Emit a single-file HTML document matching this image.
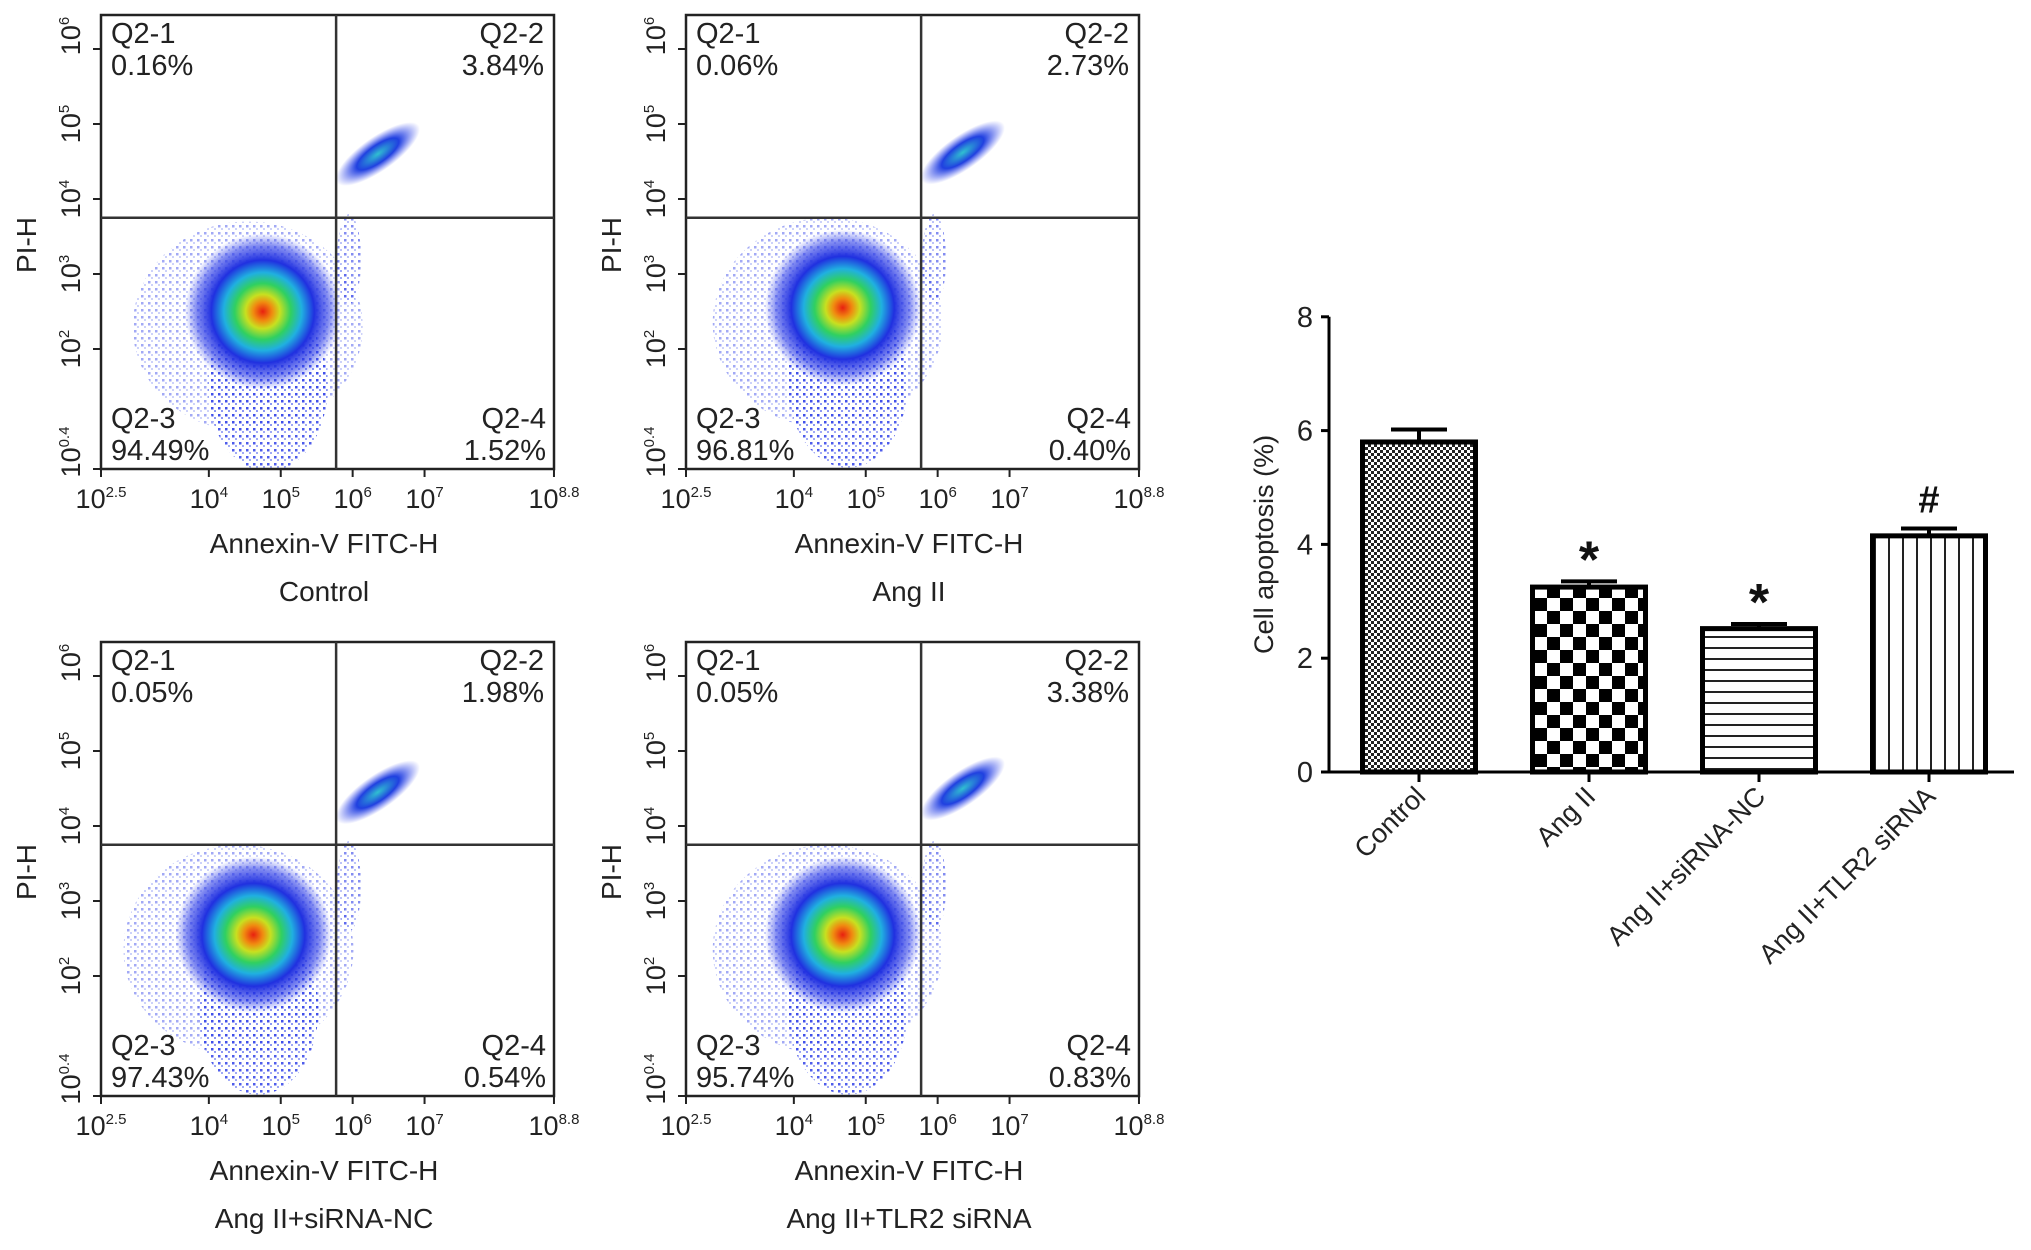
<!DOCTYPE html>
<html><head><meta charset="utf-8"><style>
html,body{margin:0;padding:0;background:#fff;}
svg{display:block;font-family:"Liberation Sans",Arial,sans-serif;}
</style></head><body>
<svg id="fig" width="2031" height="1250" viewBox="0 0 2031 1250" xmlns="http://www.w3.org/2000/svg">
<defs>
 <radialGradient id="dens" cx="50%" cy="50%" r="50%">
  <stop offset="0" stop-color="#e82010"/>
  <stop offset="0.12" stop-color="#f08a10"/>
  <stop offset="0.22" stop-color="#c8e020"/>
  <stop offset="0.36" stop-color="#30d060"/>
  <stop offset="0.5" stop-color="#20b0e0"/>
  <stop offset="0.66" stop-color="#2030e0"/>
  <stop offset="0.85" stop-color="#3040e8" stop-opacity="0.6"/>
  <stop offset="1" stop-color="#4050f0" stop-opacity="0"/>
 </radialGradient>
 <radialGradient id="dens2" cx="50%" cy="50%" r="50%">
  <stop offset="0" stop-color="#30c0d0"/>
  <stop offset="0.5" stop-color="#2040e0"/>
  <stop offset="1" stop-color="#4050f0" stop-opacity="0"/>
 </radialGradient>
 <pattern id="dots" width="7" height="7" patternUnits="userSpaceOnUse">
  <rect x="1" y="1" width="2.5" height="2.5" fill="#3040e8"/>
  <rect x="4" y="4" width="2" height="2" fill="#6070f0" opacity="0.7"/>
 </pattern>
 <pattern id="p-fine" width="6" height="6" patternUnits="userSpaceOnUse">
  <rect width="6" height="6" fill="#fff"/><rect width="3" height="3" fill="#222"/><rect x="3" y="3" width="3" height="3" fill="#222"/>
 </pattern>
 <pattern id="p-check" width="26" height="26" patternUnits="userSpaceOnUse">
  <rect width="26" height="26" fill="#fff"/><rect width="13" height="13" fill="#000"/><rect x="13" y="13" width="13" height="13" fill="#000"/>
 </pattern>
 <pattern id="p-hline" width="11" height="11" patternUnits="userSpaceOnUse">
  <rect width="11" height="11" fill="#fff"/><rect y="9" width="11" height="2" fill="#222"/>
 </pattern>
 <pattern id="p-vline" width="14" height="14" patternUnits="userSpaceOnUse">
  <rect width="14" height="14" fill="#fff"/><rect x="12" width="2" height="14" fill="#222"/>
 </pattern>
</defs>
<g id="flow"></g>
<g id="bars"></g>
</svg>
<script>
// ---- flow cytometry panels ----
const panelNames = ["Control", "Ang II", "Ang II+siRNA-NC", "Ang II+TLR2 siRNA"];
const q1Values = ["0.16%", "0.06%", "0.05%", "0.05%"];
const q2Values = ["3.84%", "2.73%", "1.98%", "3.38%"];
const q3Values = ["94.49%", "96.81%", "97.43%", "95.74%"];
const q4Values = ["1.52%", "0.40%", "0.54%", "0.83%"];
const clusterLogX = [4.75, 4.68, 4.62, 4.68];
const clusterLogY = [2.5, 2.55, 2.55, 2.55];
const apopLogX = [6.35, 6.35, 6.35, 6.35];
const apopLogY = [4.6, 4.62, 4.45, 4.5];
const xTickExp = ["2.5", "4", "5", "6", "7", "8.8"];
const xTickLog = [2.5, 4, 5, 6, 7, 8.8];
const yTickExp = ["0.4", "2", "3", "4", "5", "6"];
const yTickLog = [0.4, 2, 3, 4, 5, 6];
const gateX = 5.77, gateY = 3.75;

const NS = "http://www.w3.org/2000/svg";
function mk(tag, attrs, parent){const e=document.createElementNS(NS,tag);for(const k in attrs)e.setAttribute(k,attrs[k]);if(parent)parent.appendChild(e);return e;}
const L=101,R=554,T=15,B=469;
const fx = v => L + (v-2.5)*71.9;
const fy = v => 349 - (v-2)*75;
const offsets=[[0,0],[585,0],[0,627],[585,627]];
const flow=document.getElementById('flow');
panelNames.forEach((nm,i)=>{
 const g=mk('g',{transform:`translate(${offsets[i][0]},${offsets[i][1]})`},flow);
 
 
 const clip='clip'+i;
 const cp=mk('clipPath',{id:clip},g); mk('rect',{x:L,y:T,width:R-L,height:B-T},cp);
 const dg=mk('g',{'clip-path':`url(#${clip})`},g);
 const cx=fx(clusterLogX[i]), cy=fy(clusterLogY[i]);
 const sparse=mk('ellipse',{cx:cx-15,cy:cy+15,rx:115,ry:105,fill:'url(#dots)',opacity:0.45},dg);
 
 
 const sp2=mk('ellipse',{cx:cx+5,cy:cy+75,rx:60,ry:85,fill:'url(#dots)',opacity:0.85},dg);
 
 
 const bl=mk('ellipse',{cx:cx,cy:cy,rx:78,ry:78,fill:'url(#dens)'},dg);
 
 
 const ax=fx(apopLogX[i]), ay=fy(apopLogY[i]);
 const ap=mk('ellipse',{cx:ax,cy:ay,rx:50,ry:17,fill:'url(#dens2)',transform:`rotate(-35 ${ax} ${ay})`},dg);
 
 
 const ap2=mk('ellipse',{cx:fx(5.95),cy:fy(3.2),rx:12,ry:45,fill:'url(#dots)',opacity:0.6},dg);
 
 
 // frame & gates
 const fr=mk('rect',{x:L,y:T,width:R-L,height:B-T,fill:'none',stroke:'#222','stroke-width':2.5},g);
 
 
 const gv=mk('line',{x1:fx(gateX),x2:fx(gateX),y1:T,y2:B,stroke:'#333','stroke-width':2.5},g);
 
 
 const gh=mk('line',{x1:L,x2:R,y1:fy(gateY),y2:fy(gateY),stroke:'#333','stroke-width':2.5},g);
 
 
 // ticks
 xTickLog.forEach((v,k)=>{
  const x=fx(v);
  mk('line',{x1:x,x2:x,y1:B,y2:B+8,stroke:'#222','stroke-width':2},g);
  const t=mk('text',{x:x,y:508,'font-size':27,'text-anchor':'middle',fill:'#222'},g);
  
  
  t.innerHTML=`10<tspan dy="-11" font-size="15">${xTickExp[k]}</tspan>`;
 });
 yTickLog.forEach((v,k)=>{
  const y=fy(v);
  mk('line',{x1:L-8,x2:L,y1:y,y2:y,stroke:'#222','stroke-width':2},g);
  const ly = k===0? 452 : (k===5? 36 : y);
  const t=mk('text',{x:0,y:0,'font-size':27,'text-anchor':'middle',fill:'#222',transform:`translate(80 ${ly}) rotate(-90)`},g);
  
  
  t.innerHTML=`10<tspan dy="-11" font-size="15">${yTickExp[k]}</tspan>`;
 });
 const yt=mk('text',{x:0,y:0,'font-size':28,'text-anchor':'middle',fill:'#222',transform:'translate(36 245) rotate(-90)'},g);
 
 
 yt.textContent='PI-H';
 const xt=mk('text',{x:324,y:553,'font-size':28,'text-anchor':'middle',fill:'#222'},g);
 
 
 xt.textContent='Annexin-V FITC-H';
 const pt=mk('text',{x:324,y:601,'font-size':28,'text-anchor':'middle',fill:'#222'},g);
 
 
 pt.textContent=nm;
 const labs=[[111,43,'start','Q2-1'],[111,75,'start',q1Values[i]],[544,43,'end','Q2-2'],[544,75,'end',q2Values[i]],
             [111,428,'start','Q2-3'],[111,460,'start',q3Values[i]],[546,428,'end','Q2-4'],[546,460,'end',q4Values[i]]];
 labs.forEach(a=>{
  const t=mk('text',{x:a[0],y:a[1],'font-size':29,'text-anchor':a[2],fill:'#222'},g);
  
  
  t.textContent=a[3];
 });
});

// ---- bar chart ----
const barCategories = ["Control", "Ang II", "Ang II+siRNA-NC", "Ang II+TLR2 siRNA"];
const barValues = [5.8, 3.25, 2.52, 4.15];
const barErrors = [0.22, 0.1, 0.08, 0.13];
const barMarks = ["", "*", "*", "#"];
const barFills = ["p-fine", "p-check", "p-hline", "p-vline"];
const yTicks = [0, 2, 4, 6, 8];

const bars=document.getElementById('bars');
const Y0=772, PU=56.9, AX=1329;
const by=v=>Y0-v*PU;
const bx=i=>1419+i*170;
const bw=113;
barValues.forEach((v,i)=>{
 const c=bx(i), top=by(v), et=by(v+barErrors[i]);
 const el=mk('line',{x1:c,x2:c,y1:et,y2:top,stroke:'#000','stroke-width':4},bars);
 
 
 const cap=mk('line',{x1:c-28,x2:c+28,y1:et,y2:et,stroke:'#000','stroke-width':4},bars);
 
 
 const r=mk('rect',{x:c-bw/2,y:top,width:bw,height:Y0-top,fill:`url(#${barFills[i]})`,stroke:'#000','stroke-width':5},bars);
 
 
 if(barMarks[i]){
  const isStar=barMarks[i]==='*';
  const m=mk('text',{x:c,y:et-(isStar?4:16),'font-size':isStar?52:38,'font-weight':'bold','text-anchor':'middle',fill:'#111'},bars);
  
  
  m.textContent=barMarks[i];
 }
 mk('line',{x1:c,x2:c,y1:Y0,y2:Y0+10,stroke:'#000','stroke-width':3},bars);
 const t=mk('text',{x:0,y:0,'font-size':27,'text-anchor':'end',fill:'#222',transform:`translate(${c+8} ${Y0+26}) rotate(-45)`},bars);
 
 
 t.textContent=barCategories[i];
});
const ya=mk('line',{x1:AX,x2:AX,y1:by(8),y2:Y0,stroke:'#000','stroke-width':3},bars);


const xa=mk('line',{x1:AX-6,x2:2014,y1:Y0,y2:Y0,stroke:'#000','stroke-width':3},bars);


yTicks.forEach(v=>{
 mk('line',{x1:AX-8,x2:AX,y1:by(v),y2:by(v),stroke:'#000','stroke-width':3},bars);
 const t=mk('text',{x:AX-16,y:by(v)+10,'font-size':29,'text-anchor':'end',fill:'#222'},bars);
 
 
 t.textContent=v;
});
const yt=mk('text',{x:0,y:0,'font-size':27,'text-anchor':'middle',fill:'#222',transform:`translate(1273 ${by(4)}) rotate(-90)`},bars);


yt.textContent='Cell apoptosis (%)';
</script>
</body></html>
